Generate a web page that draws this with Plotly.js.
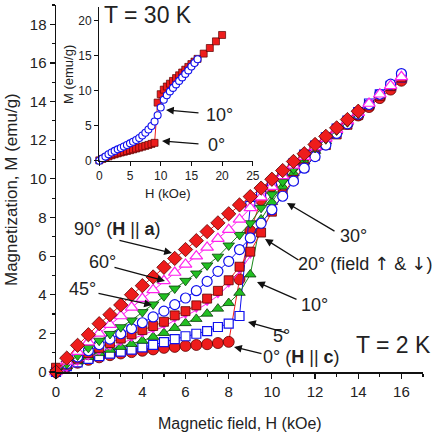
<!DOCTYPE html>
<html>
<head>
<meta charset="utf-8">
<script src="https://cdn.plot.ly/plotly-3.0.1.min.js"></script>
<style>html,body{margin:0;padding:0;background:#fff;}#chart{width:438px;height:432px;}</style>
</head>
<body>
<div id="chart"></div>
<script>
// ---------- Data: T = 2 K (main panel) ----------
const fieldH = [0,0.5,1,1.5,2,2.5,3,3.5,4,4.5,5,5.5,6,6.5,7,7.5,8,8.5,9,9.5,10,10.5,11,11.5,12,12.5,13,13.5,14,14.5,15,15.5,16];
const fieldH14 = [0,0.5,1,1.5,2,2.5,3,3.5,4,4.5,5,5.5,6,6.5,7,7.5,8,8.5,9,9.5,10,10.5,11,11.5,12,12.5,13,13.5,14];
const fieldH9 = [0,0.5,1,1.5,2,2.5,3,3.5,4,4.5,5,5.5,6,6.5,7,7.5,8,8.5,9];

const m0deg  = [0,0.28,0.48,0.63,0.76,0.87,0.96,1.03,1.1,1.17,1.25,1.3,1.35,1.4,1.44,1.5,1.56,4.8,7.3,8.9,9.6,10.15,10.65,11.1,11.55,12.0,12.42,12.85,13.28,13.72,14.18,14.62,15.08];
const m5deg  = [0,0.3,0.5,0.68,0.82,0.95,1.06,1.16,1.27,1.4,1.55,1.7,1.85,1.98,2.12,2.33,2.5,2.9,8.6,9.25,9.8,10.3,10.8,11.25,11.72,12.15,12.6,13.02,13.45,13.9,14.38,14.82,15.25];
const m10deg = [0,0.3,0.55,0.78,0.98,1.15,1.3,1.45,1.62,1.82,2.02,2.28,2.53,2.75,3.02,3.28,3.57,4.1,5.05,7.9,8.8,9.6,10.3,10.9,11.45,11.95,12.45,12.92,13.4,13.85,14.33,14.8,15.25];
const m20degUp = [0.22,0.38,0.7,0.98,1.25,1.5,1.73,1.95,2.17,2.38,2.6,2.93,3.15,3.45,3.8,4.2,4.75,5.45,6.23,7.22,8.3,9.2,9.95,10.6,11.2,11.75,12.3,12.8,13.3,13.8,14.3,14.8,15.25];
const m20degDown = [0.0,0.13,0.45,0.73,1.0,1.25,1.48,1.7,1.92,2.13,2.35,2.68,2.9,3.2,3.55,3.95,4.5,5.2,6.0];
const m30deg = [0,0.42,0.78,1.1,1.42,1.7,1.98,2.25,2.55,2.85,3.15,3.49,3.83,4.21,4.69,5.21,5.73,6.34,6.94,7.7,8.4,9.1,9.88,10.55,11.15,11.75,12.35,12.85,13.35,13.85,14.38,14.9,15.45];
const m45deg = [0,0.42,0.85,1.25,1.62,1.97,2.32,2.67,3.1,3.5,3.92,4.32,4.72,5.1,5.52,5.97,6.55,7.1,7.7,8.5,9.2,9.85,10.5,11.1,11.6,12.05,12.5,12.93,13.38];
const m60deg = [0,0.55,1.05,1.55,2.0,2.45,2.9,3.35,3.8,4.25,4.72,5.15,5.57,6.0,6.45,6.9,7.37,7.9,8.5,9.05,9.6,10.15,10.7,11.15,11.65,12.1,12.55,13.0,13.43,13.9,14.38,14.82,15.28];
const m90deg = [0,0.72,1.38,1.93,2.5,2.97,3.47,4.0,4.47,4.92,5.42,5.88,6.34,6.8,7.27,7.72,8.19,8.65,9.08,9.52,9.98,10.43,10.9,11.3,11.78,12.2,12.64,13.07,13.5];

// ---------- Data: T = 30 K (inset) ----------
const insetH0 = [0,0.5,1,1.5,2,2.5,3,3.5,4,4.5,5,5.5,6,6.5,7,7.5,8,8.5,9,9.5,10,10.5,11,11.5,12,12.5,13,13.5,14,14.5,15,15.5,16,17,18,19,20];
const insetM0 = [0.05,0.25,0.45,0.62,0.78,0.92,1.05,1.17,1.28,1.39,1.5,1.62,1.74,1.87,2.0,2.12,2.25,2.4,2.55,8.3,9.5,10.15,10.6,11.0,11.4,11.8,12.2,12.6,13.0,13.4,13.8,14.15,14.55,15.3,16.1,17.05,17.96];
const insetH10 = [0,0.5,1,1.5,2,2.5,3,3.5,4,4.5,5,5.5,6,6.5,7,7.5,8,8.5,9,9.5,10,10.5,11,11.5,12,12.5,13,13.5,14,14.5,15,15.5,16];
const insetM10 = [0,0.32,0.6,0.92,1.17,1.4,1.62,1.82,2.02,2.24,2.48,2.7,2.95,3.25,3.6,4.0,4.45,4.95,5.6,6.5,7.6,8.7,9.35,9.9,10.4,10.9,11.4,11.9,12.4,12.9,13.45,13.95,14.5];

// ---------- Styles ----------
const RED = '#ee1c1c', REDEDGE = '#5a0000';
const GREEN = '#22c022', GREENEDGE = '#0a3a0a', GLINE = '#1a8a1a';
const BLUE = '#1010ee', MAG = '#ff22ee';
const FONT = 'Liberation Sans, Arial, Helvetica, sans-serif';

function tr(x, y, sym, size, fill, edge, edgeW, lineCol, extra) {
  return Object.assign({
    x: x, y: y, type: 'scatter', mode: 'lines+markers', cliponaxis: false,
    xaxis: 'x', yaxis: 'y', hoverinfo: 'skip',
    line: {color: lineCol, width: 1},
    marker: {symbol: sym, size: size, color: fill, line: {color: edge, width: edgeW}}
  }, extra || {});
}

const data = [
  tr(fieldH, m0deg, 'circle', 11, RED, REDEDGE, 0.8, RED),
  tr(fieldH, m5deg, 'square', 9, '#ffffff', BLUE, 1.2, BLUE),
  tr(fieldH, m10deg, 'triangle-up', 10, GREEN, GREENEDGE, 0.8, GLINE),
  tr(fieldH9, m20degDown, 'triangle-down', 5, MAG, MAG, 0.5, MAG),
  tr(fieldH, m20degUp, 'square', 9, RED, REDEDGE, 0.8, RED),
  tr(fieldH, m30deg, 'circle', 10, '#ffffff', BLUE, 1.2, BLUE),
  tr(fieldH14, m45deg, 'triangle-down', 10, GREEN, GREENEDGE, 0.8, GLINE),
  tr(fieldH, m60deg, 'triangle-up', 11, '#ffffff', MAG, 1.2, MAG),
  tr(fieldH14, m90deg, 'diamond', 11, RED, REDEDGE, 0.8, RED),
  tr(insetH0, insetM0, 'square', 7, RED, REDEDGE, 0.7, RED, {xaxis: 'x2', yaxis: 'y2'}),
  tr(insetH10, insetM10, 'circle', 7, '#ffffff', BLUE, 1.1, BLUE, {xaxis: 'x2', yaxis: 'y2', line: {color: BLUE, width: 0.6}})
];

// pixel -> paper helpers (plot area: left 56, top 5, 367 x 367)
const PX = px => (px - 56) / 367;
const PY = py => (372 - py) / 367;

function label(text, px, py, size, extra) {
  return Object.assign({
    text: text, xref: 'paper', yref: 'paper', x: PX(px), y: PY(py),
    xanchor: 'center', yanchor: 'middle', showarrow: false,
    font: {family: FONT, size: size, color: '#222'}
  }, extra || {});
}
function arrow(tx, ty, hx, hy) {
  return {
    text: '', xref: 'paper', yref: 'paper', x: PX(hx), y: PY(hy),
    showarrow: true, ax: tx - hx, ay: ty - hy, axref: 'pixel', ayref: 'pixel',
    arrowhead: 2, arrowsize: 1.2, arrowwidth: 1.3, arrowcolor: '#111', standoff: 0, startstandoff: 0
  };
}

const annotations = [
  label('90° (<b>H</b> || <b>a</b>)', 117, 229, 18),
  label('60°', 102, 262, 18),
  label('45°', 82, 289, 18),
  label('30°', 353, 236, 18),
  label('20° (field <span style="font-family:DejaVu Sans">↑</span> & <span style="font-family:DejaVu Sans">↓</span>)', 365, 263, 18),
  label('10°', 314, 305, 18),
  label('5°', 281, 336, 18),
  label('0° (<b>H</b> || <b>c</b>)', 301, 357, 18),
  label('T = 2 K', 393, 345, 23),
  label('T = 30 K', 148, 15, 23),
  label('10°', 219, 115, 18),
  label('0°', 216, 145, 18),
  label('Magnetization, M (emu/g)', 11, 190, 17, {textangle: -90}),
  label('Magnetic field, H (kOe)', 240, 423, 16),
  label('M (emu/g)', 68, 75, 13, {textangle: -90}),
  label('H (kOe)', 168, 194, 13),
  arrow(118, 240, 172, 253),
  arrow(113, 267, 165, 281),
  arrow(97, 293, 152, 305),
  arrow(336, 232, 287, 203),
  arrow(300, 261, 265, 239),
  arrow(298, 300, 257, 282),
  arrow(287, 333, 248, 322),
  arrow(263, 354, 234, 347),
  arrow(200, 113, 166, 110),
  arrow(200, 144, 162, 141)
];

const axBase = {
  showline: true, linecolor: '#111', linewidth: 1.5, mirror: false,
  showgrid: false, zeroline: false, ticks: 'outside', tickcolor: '#111',
  tickfont: {family: FONT, size: 15, color: '#222'}
};

const layout = {
  width: 438, height: 432,
  margin: {l: 56, r: 15, t: 5, b: 60},
  paper_bgcolor: '#fff', plot_bgcolor: 'rgba(0,0,0,0)',
  showlegend: false,
  font: {family: FONT},
  xaxis: Object.assign({}, axBase, {
    range: [0, 17], dtick: 2, tick0: 0, ticklen: 5, tickwidth: 1.2,
    minor: {dtick: 1, ticks: 'outside', ticklen: 3, tickcolor: '#111'}, anchor: 'y'
  }),
  yaxis: Object.assign({}, axBase, {
    range: [0, 19], dtick: 2, tick0: 0, ticklen: 5, tickwidth: 1.2,
    minor: {dtick: 1, ticks: 'outside', ticklen: 3, tickcolor: '#111'}, anchor: 'x'
  }),
  xaxis2: Object.assign({}, axBase, {
    domain: [PX(99.3), PX(252.8)], anchor: 'y2', range: [0, 25], dtick: 5,
    ticklen: 4, linewidth: 1.2, tickfont: {family: FONT, size: 12, color: '#222'}
  }),
  yaxis2: Object.assign({}, axBase, {
    domain: [PY(160.7), PY(6.7)], anchor: 'x2', range: [0, 22], dtick: 5,
    ticklen: 4, linewidth: 1.2, tickfont: {family: FONT, size: 12, color: '#222'}
  }),
  annotations: annotations
};

Plotly.newPlot('chart', data, layout, {staticPlot: true, displayModeBar: false});
</script>
</body>
</html>
